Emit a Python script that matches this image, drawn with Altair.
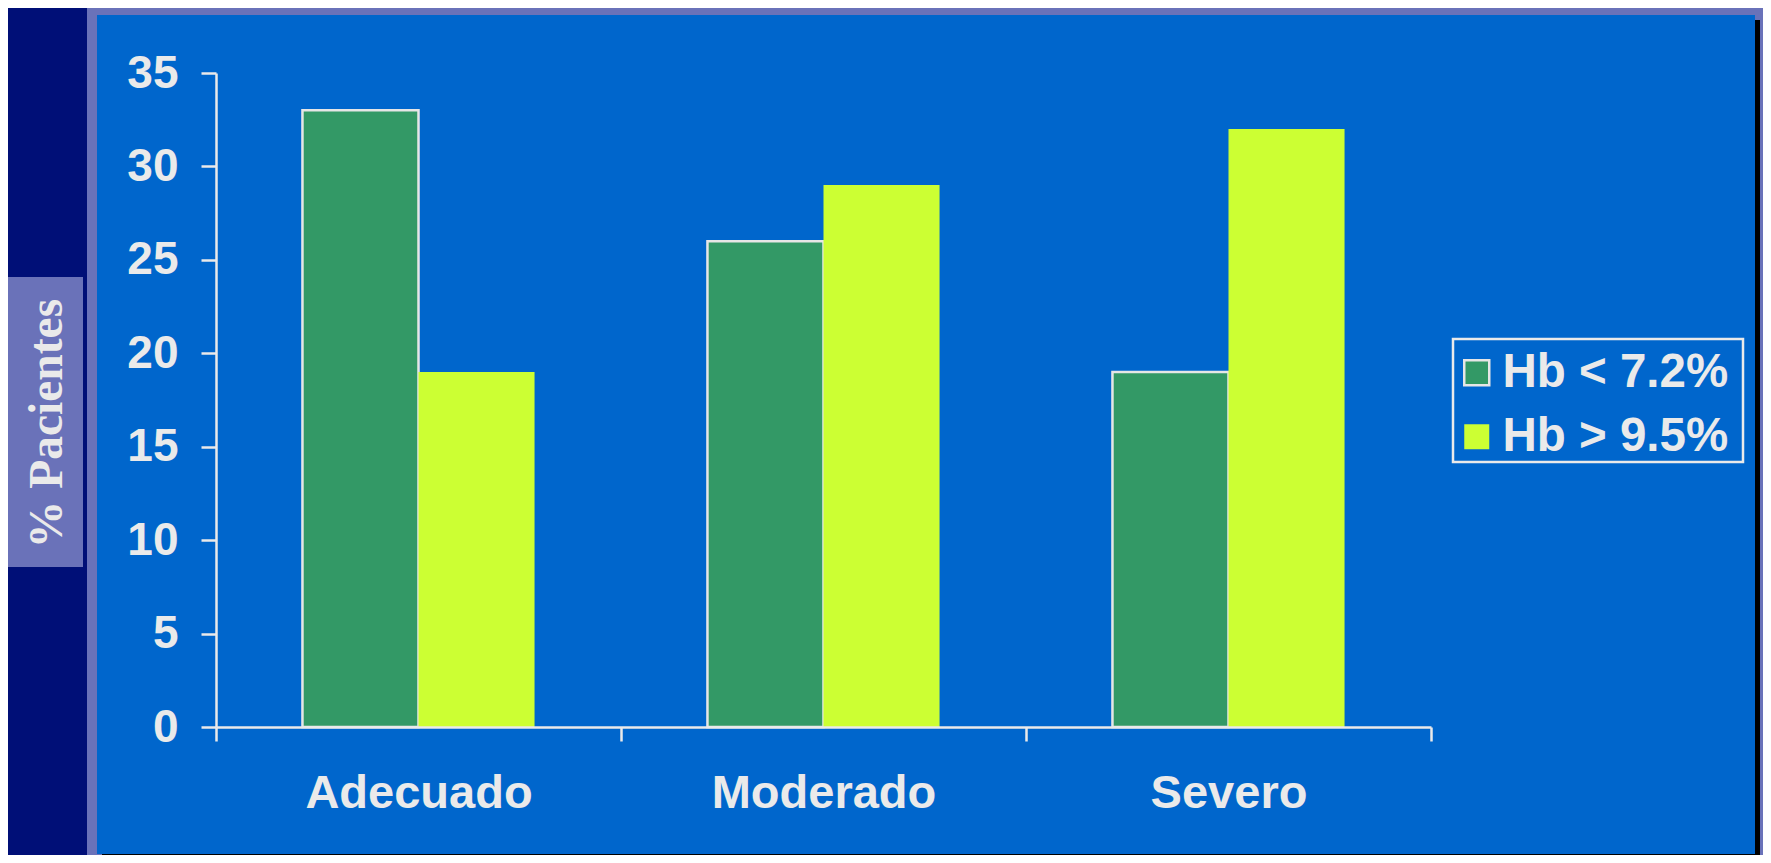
import altair as alt
import pandas as pd

categories = ["Adecuado", "Moderado", "Severo"]
series = ["Hb < 7.2%", "Hb > 9.5%"]
hb_low = [33, 26, 19]
hb_high = [19, 29, 32]
y_ticks = [0, 5, 10, 15, 20, 25, 30, 35]

rows = []
for c, a, b in zip(categories, hb_low, hb_high):
    rows.append({"cat": c, "serie": series[0], "val": a})
    rows.append({"cat": c, "serie": series[1], "val": b})
df = pd.DataFrame(rows)

NAVY = "#000F77"
LAV = "#6A72B9"
BLUE = "#0066CC"
GREEN = "#339966"
YELLOW = "#CCFF33"
LIGHT = "#EAEAEA"
SANS = "Liberation Sans"
SERIF = "Liberation Serif"

one = alt.Data(values=[{"k": 1}])

def deco(color, x1, x2, y1, y2):
    return alt.Chart(one).mark_rect(color=color).encode(
        x=alt.value(x1), x2=alt.value(x2), y=alt.value(y1), y2=alt.value(y2)
    )

frame = deco(LAV, -129, 1555, -69, 790)
shadow = deco("#000000", -114, 1544, -53, 787)
panel = deco(BLUE, -119, 1539, -58, 781)
title_box = deco(LAV, -211, -133, 204, 494)
legend_box = alt.Chart(one).mark_rect(
    fill=None, fillOpacity=0, stroke=LIGHT, strokeWidth=2.5
).encode(x=alt.value(1237), x2=alt.value(1527), y=alt.value(266), y2=alt.value(389))

legend = alt.Legend(
    title=None, orient="none", legendX=1236, legendY=265,
    symbolType="square", symbolSize=625, symbolStrokeWidth=2.5, symbolOffset=-10,
    labelFont=SANS, labelFontSize=47.5, labelFontWeight="bold", labelColor=LIGHT,
    labelLimit=500, labelOffset=2, padding=11, rowPadding=15, zindex=1,
)

bars = alt.Chart(df).mark_bar(strokeWidth=2.5).encode(
    x=alt.X("cat:N", sort=categories,
            scale=alt.Scale(domain=categories, paddingInner=0, paddingOuter=0),
            axis=alt.Axis(title=None, labelAngle=0, tickBand="extent", grid=False,
                          domainColor=LIGHT, domainWidth=2.5, tickColor=LIGHT,
                          tickWidth=2.5, tickSize=14, labelFont=SANS,
                          labelFontSize=47, labelFontWeight="bold", labelLimit=600,
                          labelColor=LIGHT, labelPadding=29, zindex=1)),
    xOffset=alt.XOffset("serie:N", sort=series,
                        scale=alt.Scale(domain=series, paddingInner=0, paddingOuter=0.745)),
    y=alt.Y("val:Q",
            scale=alt.Scale(domain=[0, 35], nice=False),
            axis=alt.Axis(values=y_ticks, title="% Pacientes", grid=False,
                          domainColor=LIGHT, domainWidth=2.5, tickColor=LIGHT,
                          tickWidth=2.5, tickSize=15, labelFont=SANS,
                          labelFontSize=46, labelFontWeight="bold",
                          labelColor=LIGHT, labelPadding=23,
                          titleFont=SERIF, titleFontSize=47.5, titleFontWeight="bold",
                          titleColor=LIGHT, titleAngle=270, titleX=-169, titleY=350,
                          titleAlign="center", titleBaseline="middle", zindex=1)),
    fill=alt.Fill("serie:N", scale=alt.Scale(domain=series, range=[GREEN, YELLOW]),
                  legend=legend),
    stroke=alt.Stroke("serie:N", scale=alt.Scale(domain=series, range=["#E6E6E6", "transparent"]),
                      legend=legend),
)

chart = alt.layer(frame, shadow, panel, title_box, legend_box, bars).properties(
    width=1215, height=654,
    autosize=alt.AutoSizeParams(type="none"),
    padding={"left": 208, "top": 65, "right": 332, "bottom": 128},
    background=NAVY,
).configure_view(stroke=None)

chart.save("out.html", embed_options={"renderer": "svg", "actions": False})
